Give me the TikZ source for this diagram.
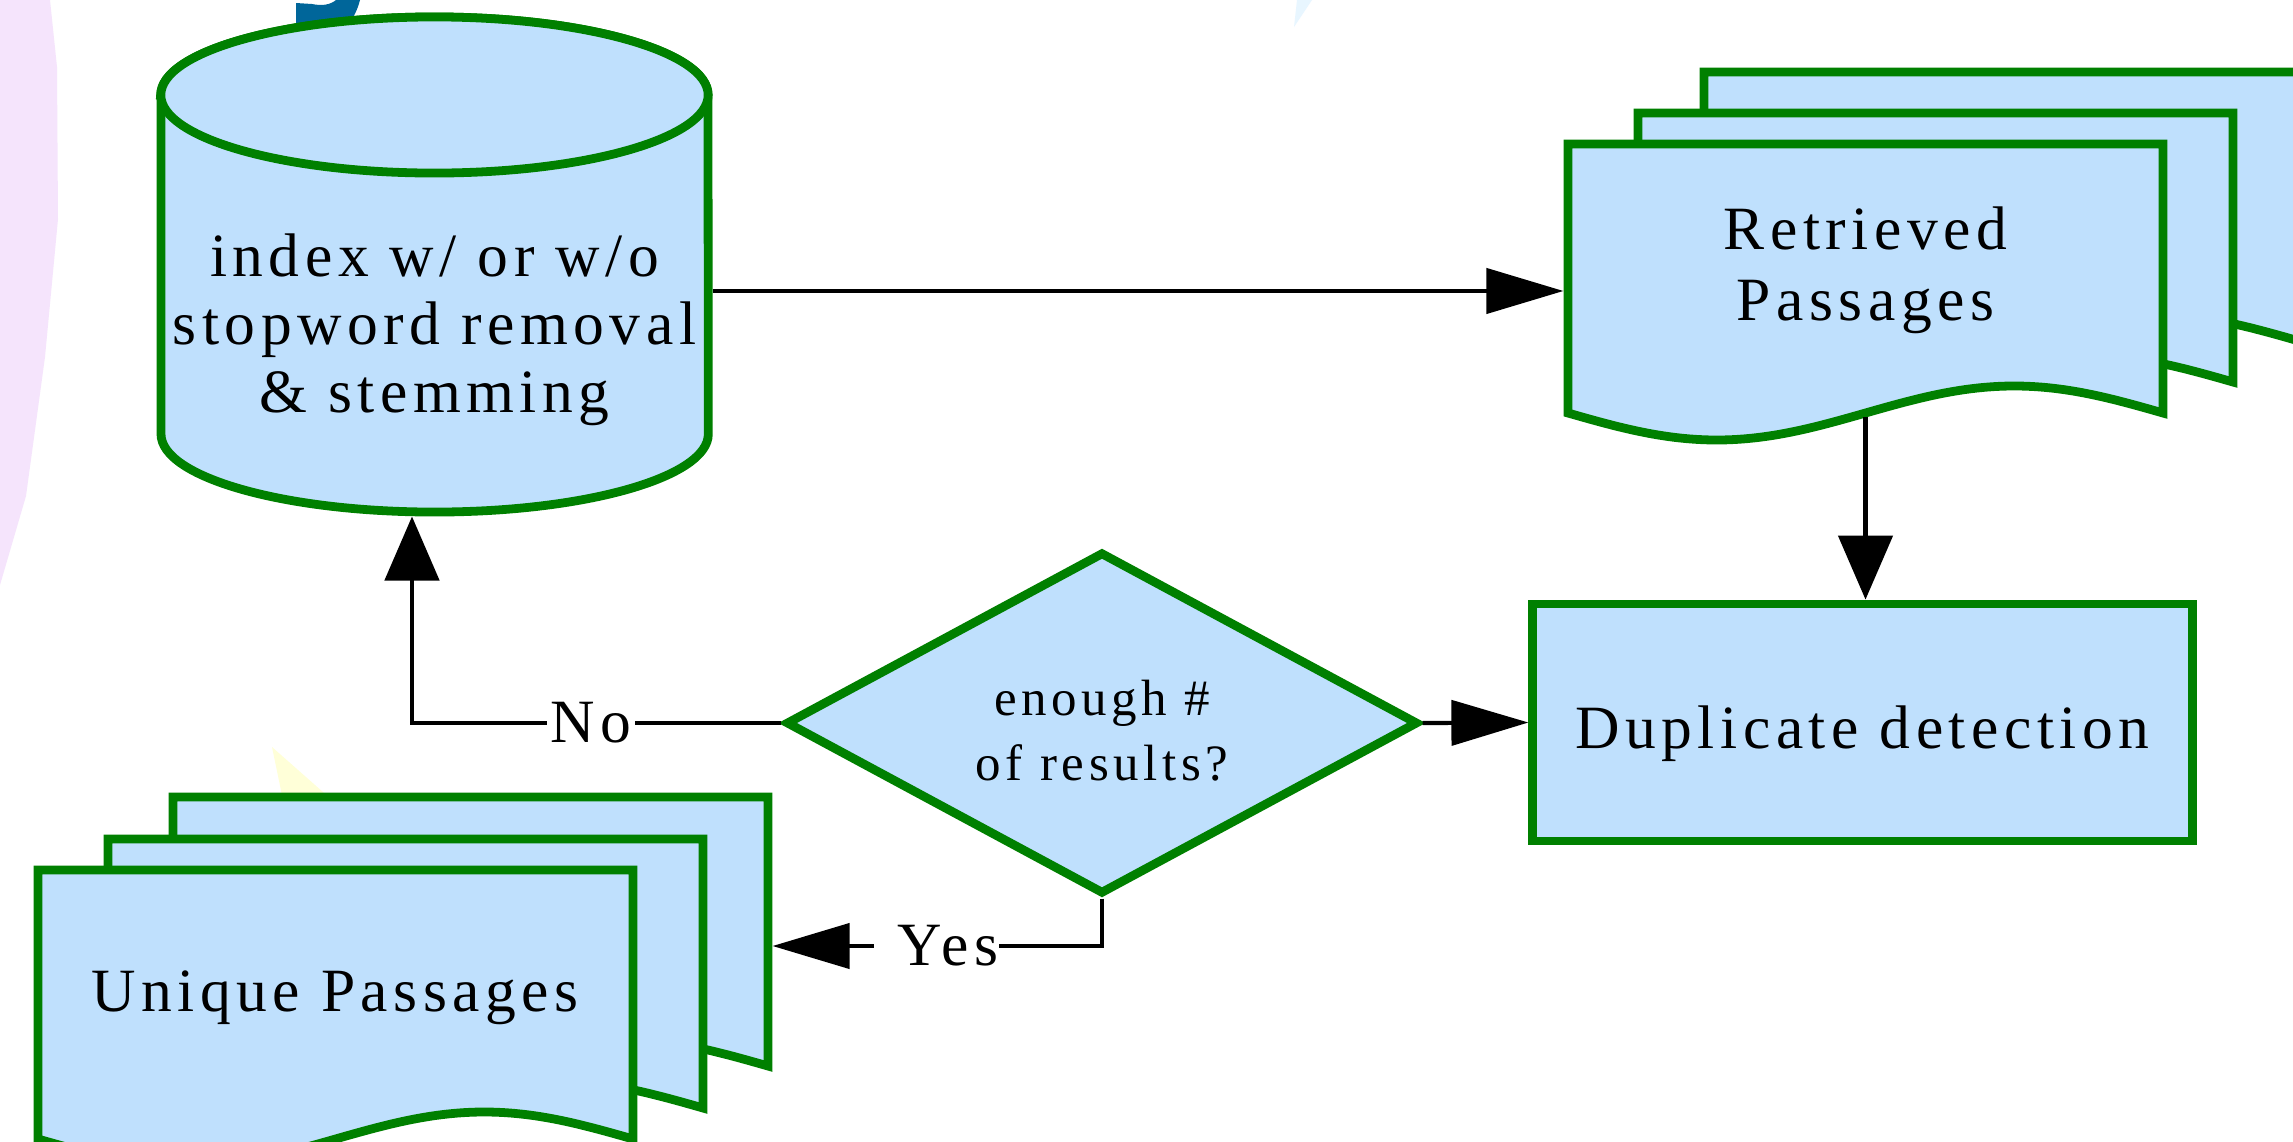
\documentclass[tikz,border=0pt]{standalone}
\usepackage{fontspec}
\setmainfont{Liberation Serif}[LetterSpace=9]
\usetikzlibrary{shapes.geometric,arrows.meta}
\definecolor{docfill}{RGB}{191,224,253}
\definecolor{docline}{RGB}{0,128,0}
\definecolor{lav}{RGB}{245,228,252}
\definecolor{gblue}{RGB}{0,102,154}
\definecolor{pcyan}{RGB}{232,246,255}
\definecolor{pyellow}{RGB}{255,255,216}
\tikzset{
  shapestyle/.style={fill=docfill, draw=docline, line width=2.5pt, line join=miter},
  conn/.style={draw=black, line width=1.2pt},
  harrow/.style={conn, -{Triangle[length=21.9pt,width=12.8pt]}},
  varrow/.style={conn, -{Triangle[length=18.2pt,width=15.4pt]}},
  lbl/.style={fill=white, inner sep=1pt, font=\fontsize{17.5}{19.8}\selectfont},
  txt/.style={inner sep=0pt, outer sep=1.25pt, align=center},
  anch/.style={inner sep=0pt, outer sep=1.25pt, minimum width=5.95cm, minimum height=2.69cm},
}
\newcommand{\docshape}[2]{%
  \begin{scope}[shift={(#1,#2)}]
    \path[shapestyle] (0,0) -- (595,0) --
      plot[domain=595:0, samples=61, smooth] (\x,{269+27*sin(0.605042*\x)}) -- cycle;
  \end{scope}}
\begin{document}
\begin{tikzpicture}[x=0.01cm, y=-0.01cm]
\useasboundingbox (0,0) rectangle (2293,1142);
\clip (0,0) rectangle (2293,1142);
\fill[white] (0,0) rectangle (2293,1142);

% background fragments
\fill[lav] (0,0) -- (50,0) -- (57,67) -- (58,219) -- (45,357) -- (26,496) -- (0,585) -- cycle;
\fill[pcyan] (1294,27) -- (1297,0) -- (1312,0) -- cycle;
\fill[pyellow] (272,747) -- (283,800) -- (332,800) -- cycle;
\fill[gblue] (296,3) -- (312,4) .. controls (322,6) and (330,5) .. (336,0) -- (360,0)
  .. controls (357,12) and (352,20) .. (345,28) -- (296,28) -- cycle;

% cylinder
\path[shapestyle] (161,95) -- (161,434)
  arc[start angle=180, end angle=360, x radius=2.735cm, y radius=0.78cm]
  -- (708,95)
  arc[start angle=0, end angle=180, x radius=2.735cm, y radius=0.78cm] -- cycle;
\path[shapestyle] (434.5,95) ellipse[x radius=2.735cm, y radius=0.78cm];
\node[txt, minimum width=5.47cm, minimum height=3.75cm,
      font=\fontsize{17.5}{19.4}\selectfont] (idx) at (434.5,324.5)
  {\rule{0pt}{15pt}index w/ or w/o\\stopword removal\\\& stemming};

% retrieved passages stack
\docshape{1704}{72}
\docshape{1638}{113}
\docshape{1568}{144}
\node[txt, minimum width=5.95cm, minimum height=2.86cm,
      font=\fontsize{17.5}{20.2}\selectfont] (retr) at (1865.5,270)
  {Retrieved\\Passages};

% unique passages stack
\docshape{173}{797}
\docshape{108}{839}
\docshape{38}{870}
\node[anch] (uniqb) at (470.5,931.5) {};
\node[txt, font=\fontsize{17.5}{19.8}\selectfont] (uniq) at (335,997.5) {Unique Passages};

% duplicate detection
\node[shapestyle, rectangle, minimum width=6.59cm, minimum height=2.37cm, inner sep=0pt,
      text height=16pt, text depth=1.5pt,
      font=\fontsize{17.5}{19.8}\selectfont] (dup) at (1862.5,722.5) {Duplicate detection};

% decision
\node[shapestyle, diamond, aspect=1.85, minimum width=6.32cm, minimum height=3.42cm,
      inner sep=0pt, align=center,
      font=\fontsize{14.5}{18.5}\selectfont] (dia) at (1102,723)
  {\rule{0pt}{14.5pt}enough \#\\of results?};

% connectors
\coordinate (ia) at ([yshift=3.35mm]idx.east);
\draw[harrow] (ia) -- (ia -| retr.west);
\draw[varrow] (retr.south) -- (retr.south |- dup.north);
\draw[harrow] (dia.east) -- (dup.west);
\coordinate (noc) at (412,723);
\draw[varrow] (dia.west) -- node[lbl, pos=0.516] {No} (noc) -- (noc |- idx.south);
\coordinate (yesc) at (1102,946);
\draw[harrow] (dia.south) -- (yesc) -- node[lbl, inner sep=0pt, pos=0.503] {\hspace{0.24cm}Yes} (yesc -| uniqb.east);
\end{tikzpicture}
\end{document}
